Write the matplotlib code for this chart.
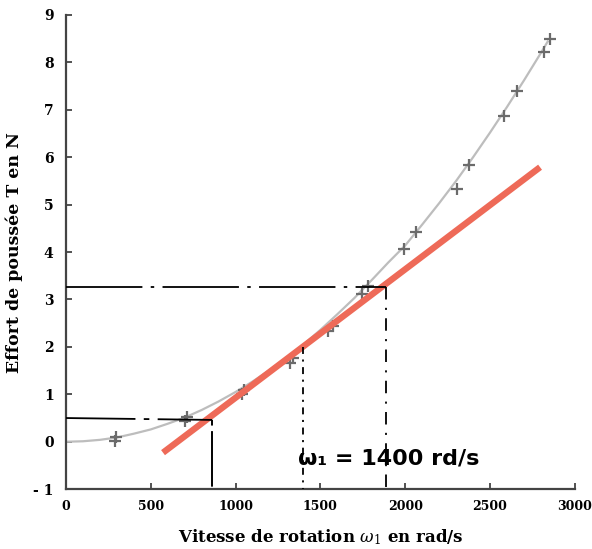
import matplotlib
matplotlib.use("Agg")
import matplotlib.pyplot as plt

plt.rcParams["lines.scale_dashes"] = False
plt.rcParams["mathtext.fontset"] = "dejavuserif"

# measured points (crosses)
omega_pts = [289, 296, 702, 716, 1036, 1050, 1320, 1336, 1545, 1575, 1745, 1780,
             1990, 2064, 2305, 2375, 2583, 2659, 2818, 2854]
thrust_pts = [0.02, 0.11, 0.44, 0.52, 1.0, 1.1, 1.66, 1.76, 2.33, 2.45, 3.12, 3.28,
              4.07, 4.42, 5.34, 5.83, 6.87, 7.4, 8.22, 8.5]

# gray trend curve
curve_w = [0, 100, 200, 300, 400, 500, 600, 700, 800, 900, 1000, 1100, 1200, 1300,
           1400, 1500, 1600, 1700, 1800, 1900, 2000, 2100, 2200, 2300, 2400, 2500,
           2600, 2700, 2800, 2840]
curve_t = [0, 0.01, 0.04, 0.09, 0.17, 0.26, 0.38, 0.51, 0.67, 0.85, 1.05, 1.27,
           1.51, 1.77, 2.05, 2.36, 2.69, 3.03, 3.4, 3.78, 4.14, 4.58, 5.03, 5.5,
           6.0, 6.52, 7.06, 7.62, 8.2, 8.44]

# red tangent line end points
tangent_w = [572, 2795]
tangent_t = [-0.23, 5.79]

# construction lines
h_high = 3.27
v_high = 1885
h_low = 0.5
v_low = 862
v_mid = 1400
t_mid = 2.0

xticks = [0, 500, 1000, 1500, 2000, 2500, 3000]
yticks = [-1, 0, 1, 2, 3, 4, 5, 6, 7, 8, 9]
ytick_labels = ["- 1", "0", "1", "2", "3", "4", "5", "6", "7", "8", "9"]

fam = "DejaVu Serif"

fig = plt.figure(figsize=(5.92, 5.49), dpi=100)
ax = fig.add_axes([0.1115, 0.109, 0.8595, 0.8637])

ax.plot(curve_w, curve_t, color="#bdbdbd", lw=1.6, zorder=2)
ax.plot(omega_pts, thrust_pts, linestyle="none", marker="+", ms=9, mew=1.6,
        color="#6b6b6b", zorder=3)
ax.plot(tangent_w, tangent_t, color="#ee6a58", lw=4.6, solid_capstyle="butt", zorder=4)

# dash-dot construction lines
ax.plot([0, v_high], [h_high, h_high], color="black", lw=1.3,
        linestyle=(0, (55, 6, 2.5, 6)), zorder=5)
ax.plot([v_high, v_high], [h_high, -1], color="black", lw=1.3,
        linestyle=(0, (9, 6, 1.5, 6)), zorder=5)
ax.plot([0, v_low], [h_low, h_low - 0.04], color="black", lw=1.3,
        linestyle=(0, (50, 6, 4, 6)), zorder=5)
ax.plot([v_low, v_low], [h_low - 0.04, -1], color="black", lw=1.4,
        linestyle=(0, (4, 4, 40, 4)), zorder=5)
ax.plot([v_mid, v_mid], [t_mid, -1], color="black", lw=1.3,
        linestyle=(0, (5, 4, 1.5, 4)), zorder=5)

ax.text(1370, -0.35, "ω₁ = 1400 rd/s", fontsize=16, fontweight="heavy",
        family="DejaVu Sans", ha="left", va="center", zorder=6)

ax.set_xlim(0, 3000)
ax.set_ylim(-1, 9)
ax.set_xticks(xticks)
ax.set_yticks(yticks)
ax.set_xticklabels([str(v) for v in xticks], family=fam, fontweight="bold", fontsize=9)
ax.set_yticklabels(ytick_labels, family=fam, fontweight="bold", fontsize=10)
ax.tick_params(direction="in", length=4, width=1.3, color="#444444", pad=8)
ax.tick_params(axis="y", pad=9)

for side in ["top", "right"]:
    ax.spines[side].set_visible(False)
for side in ["left", "bottom"]:
    ax.spines[side].set_color("#444444")
    ax.spines[side].set_linewidth(1.6)

ax.set_xlabel(r"Vitesse de rotation $\omega_1$ en rad/s", family=fam,
              fontweight="bold", fontsize=12, labelpad=10)
ax.set_ylabel("Effort de poussée T en N", family=fam, fontweight="bold",
              fontsize=12.5, labelpad=7)

fig.savefig("out.png", dpi=100)
